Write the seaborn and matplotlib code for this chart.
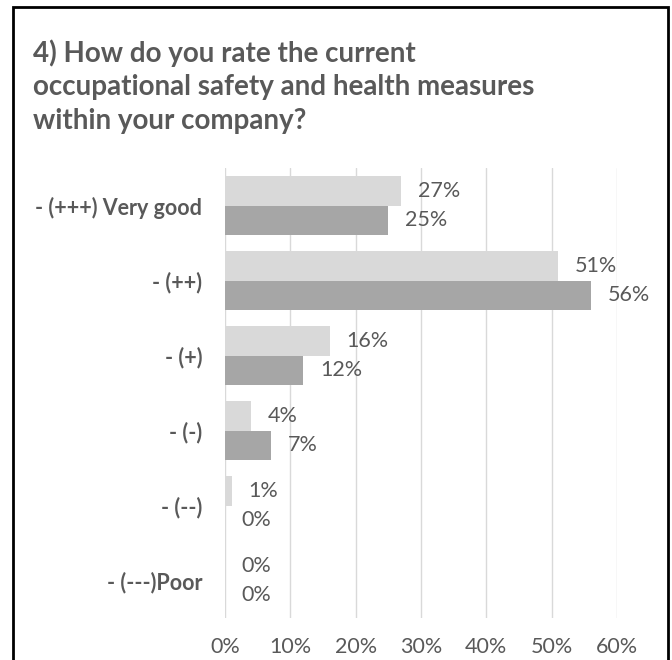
import matplotlib
matplotlib.use("Agg")
import matplotlib.pyplot as plt
import matplotlib.patches as mpatches
from matplotlib.ticker import PercentFormatter
import pandas as pd
import seaborn as sns

# Survey answers (share of respondents) for two survey rounds
categories = ["- (+++) Very good", "- (++)", "- (+)", "- (-)", "- (--)", "- (---)Poor"]
series_names = ["Round 1", "Round 2"]
round1 = [0.27, 0.51, 0.16, 0.04, 0.01, 0.00]
round2 = [0.25, 0.56, 0.12, 0.07, 0.00, 0.00]
x_ticks = [0.0, 0.1, 0.2, 0.3, 0.4, 0.5, 0.6]

title = ("4) How do you rate the current\n"
         "occupational safety and health measures\n"
         "within your company?")

df = pd.DataFrame({
    "category": categories * 2,
    "share": round1 + round2,
    "series": [series_names[0]] * len(categories) + [series_names[1]] * len(categories),
})

sns.set_theme(style="white")
plt.rcParams["font.family"] = ["Lato", "DejaVu Sans"]

TEXT = "#595959"
LIGHT = "#d9d9d9"
DARK = "#a6a6a6"
GRID = "#d9d9d9"

W, H = 672, 660
fig = plt.figure(figsize=(W / 100, H / 100), dpi=100)
fig.patch.set_facecolor("white")

# axes placed in pixel terms
left, right, top, bottom = 225, 617, 168, 618
ax = fig.add_axes([left / W, 1 - bottom / H, (right - left) / W, (bottom - top) / H])

sns.barplot(data=df, y="category", x="share", hue="series", order=categories,
            hue_order=series_names, palette=[LIGHT, DARK], saturation=1,
            width=0.79, orient="h", legend=False, ax=ax, edgecolor="none", linewidth=0)

for cont in ax.containers:
    ax.bar_label(cont, labels=[f"{v:.0%}" for v in cont.datavalues],
                 padding=12, color=TEXT, fontsize=15.5)

ax.set_xlim(0, 0.6)
ax.set_xticks(x_ticks)
ax.xaxis.set_major_formatter(PercentFormatter(1.0, decimals=0))
ax.set_xlabel("")
ax.set_ylabel("")
ax.grid(axis="x", color=GRID, linewidth=1)
ax.set_axisbelow(True)
for s in ax.spines.values():
    s.set_visible(False)
ax.tick_params(axis="x", length=0, pad=13.5, labelsize=15.5, labelcolor=TEXT)
ax.tick_params(axis="y", length=0, pad=16.5, labelsize=15.5, labelcolor=TEXT)
for lab in ax.get_yticklabels():
    lab.set_fontweight("bold")

fig.text(33 / W, 1 - 39 / H, title, ha="left", va="top", fontsize=20,
         fontweight="bold", color=TEXT, linespacing=1.37)

# frame around the whole chart (open at the bottom edge)
frame = mpatches.Rectangle((13 / W, -0.02), (668 - 13) / W, 1.02 - 7 / H,
                           transform=fig.transFigure, fill=False,
                           edgecolor="black", linewidth=2)
fig.patches.append(frame)

fig.savefig("out.png", dpi=100, facecolor="white")
